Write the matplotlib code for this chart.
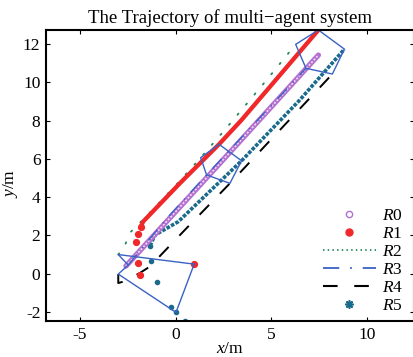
import numpy as np
import matplotlib.pyplot as plt
from matplotlib.lines import Line2D

plt.rcParams['font.family'] = ['Liberation Serif', 'DejaVu Serif']
plt.rcParams['mathtext.fontset'] = 'custom'
plt.rcParams['mathtext.rm'] = 'Liberation Serif'
plt.rcParams['mathtext.it'] = 'Liberation Serif:italic'
plt.rcParams['axes.unicode_minus'] = False

# leader R0 (straight run)
r0_x = [-2.6, 2.3, 7.47]
r0_y = [0.4, 5.75, 11.42]

# R1 - first few samples are far apart, then a dense run
r1_x = [0.97, -1.87, -1.97, -2.08, -1.99, -1.82, -1.7, 0.22, 2.27, 3.45, 7.47]
r1_y = [0.5, -0.07, 0.58, 1.64, 2.06, 2.46, 2.72, 4.72, 6.76, 8.03, 12.73]
r1_sparse = 6

# R2 dotted
r2_x = [-3.0, -2.65, -2.34, -1.47, 0.27, 1.31, 2.75, 4.72, 6.28]
r2_y = [1.0, 1.5, 2.19, 3.07, 4.9, 6.06, 7.72, 10.07, 11.98]

# R3 dash-dot
r3_x = [-2.48, -0.5, 1.62, 6.82]
r3_y = [0.45, 2.85, 5.16, 10.73]

# R4 dashed
r4_x = [-3.0, -3.0, -2.77, -1.9, -1.35, 0.4, 2.84, 8.2]
r4_y = [-0.02, -0.49, -0.42, 0.02, 0.37, 2.2, 4.72, 10.43]

# R5 stars
r5_x = [0.02, 0.49, -0.26, -0.96, -1.29, -1.34, -1.08, 0.14, 3.45, 6.5, 8.83]
r5_y = [-2.02, -2.47, -1.75, -0.45, 0.68, 1.46, 2.02, 2.72, 5.9, 9.08, 11.73]
r5_sparse = 6

# formation snapshots (R1..R5)
snap_start = [(0.97, 0.5), (-3.0, 1.0), (-2.48, 0.45), (-3.0, -0.02), (0.02, -2.02)]
snap_mid = [(2.27, 6.76), (1.31, 6.06), (1.62, 5.16), (2.84, 4.72), (3.45, 5.9)]
snap_end = [(7.47, 12.73), (6.28, 11.98), (6.82, 10.73), (8.2, 10.43), (8.83, 11.73)]

c_r0 = '#b46fd0'
c_r1 = '#f0282a'
c_r2 = '#22885a'
c_r3 = '#3a62c4'
c_r4 = 'black'
c_r5 = '#1a6a8c'
c_poly = '#3a62c4'

fig = plt.figure(figsize=(4.14, 3.57), dpi=100)
ax = fig.add_axes([46 / 414, 36 / 357, 368 / 414, 291 / 357])

# R2 dotted line
ax.plot(r2_x, r2_y, color=c_r2, lw=1.3, linestyle=(0, (0.8, 6.5)),
        dash_capstyle='round')

# R4 dashed
ax.plot(r4_x, r4_y, color=c_r4, lw=1.4, linestyle=(0, (7, 8)))

# R5 teal stars
ax.plot(r5_x[:r5_sparse], r5_y[:r5_sparse], linestyle='none', marker='o',
        ms=3, color=c_r5)
ax.plot(r5_x[r5_sparse - 1:], r5_y[r5_sparse - 1:], color=c_r5, lw=2.6,
        linestyle=(0, (1.0, 0.4)))

# R1 red dots
ax.plot(r1_x[:r1_sparse], r1_y[:r1_sparse], linestyle='none', marker='o',
        ms=4.2, color=c_r1)
ax.plot(r1_x[r1_sparse - 1:], r1_y[r1_sparse - 1:], color=c_r1, lw=3.1,
        solid_capstyle='round')

# R0 hollow circles
ax.plot(r0_x, r0_y, color=c_r0, lw=3.8, solid_capstyle='round')
ax.plot(r0_x, r0_y, color='#ecdcf4', lw=1.2, linestyle=(0, (1.2, 1.0)))

# R3 dash-dot
ax.plot(r3_x, r3_y, color=c_r3, lw=1.0, linestyle=(0, (10, 6, 1, 6)))

# formation polygons
for snap in (snap_start, snap_mid, snap_end):
    px = [p[0] for p in snap] + [snap[0][0]]
    py = [p[1] for p in snap] + [snap[0][1]]
    ax.plot(px, py, color=c_poly, lw=1.0)

ax.set_xlim(-6.78, 12.47)
ax.set_ylim(-2.47, 12.73)
ax.set_xticks([-5, 0, 5, 10])
ax.set_yticks([-2, 0, 2, 4, 6, 8, 10, 12])
ax.tick_params(direction='in', top=True, right=True, labelsize=12.5, length=3,
               width=0.8, pad=4)
for s in ax.spines.values():
    s.set_linewidth(1.5)

ax.set_title('The Trajectory of multi\u2212agent system', fontsize=13.5, pad=5)
ax.set_xlabel(r'$x$/m', fontsize=12.5, labelpad=-1)
ax.set_ylabel(r'$y$/m', fontsize=12.5)
ax.yaxis.set_label_coords(-0.07, 0.474)

handles = [
    Line2D([], [], linestyle='none', marker='o', mfc='none', mec=c_r0, ms=4.5),
    Line2D([], [], linestyle='none', marker='o', color=c_r1, ms=5),
    Line2D([], [], color=c_r2, lw=1.3, linestyle=(0, (0.8, 1.8))),
    Line2D([], [], color=c_r3, lw=1.3, linestyle=(0, (9, 6, 1, 6))),
    Line2D([], [], color=c_r4, lw=1.5, linestyle=(0, (7, 8))),
    Line2D([], [], linestyle='none', marker=(8, 2, 0), color=c_r5, ms=6, mew=1.2),
]
labels = [r'$R$0', r'$R$1', r'$R$2', r'$R$3', r'$R$4', r'$R$5']
ax.legend(handles, labels, loc='lower right', bbox_to_anchor=(0.972, 0.025),
          frameon=False, fontsize=12.5, handlelength=3.05, handletextpad=0.4,
          labelspacing=0.1, borderpad=0, borderaxespad=0)

fig.savefig('out.png', dpi=100)
